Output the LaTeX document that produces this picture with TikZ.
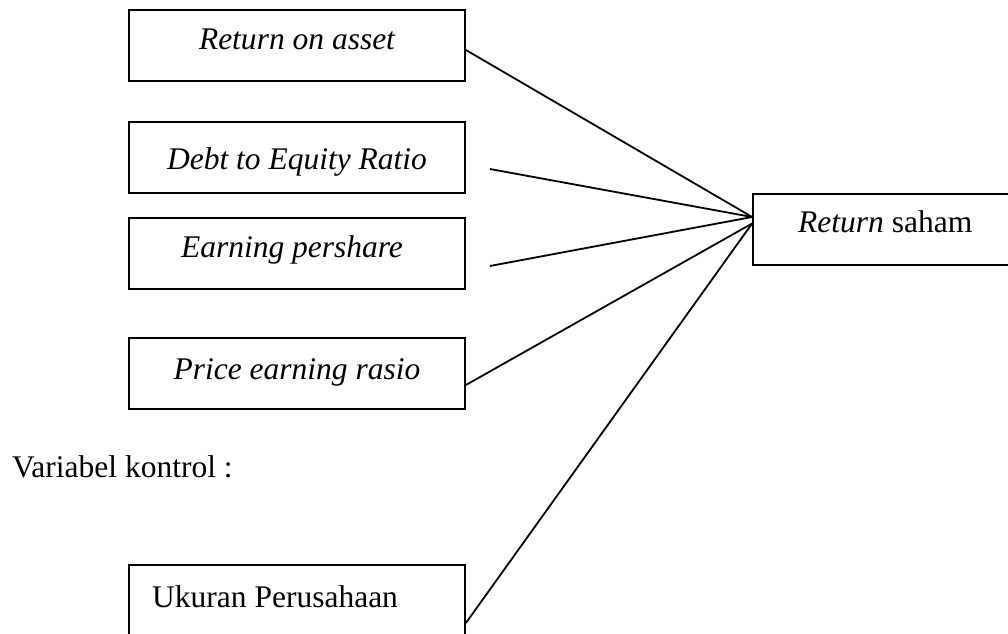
\documentclass[tikz,border=0pt]{standalone}
\usepackage{fontspec}
\setmainfont{Liberation Serif}
\begin{document}
\begin{tikzpicture}[x=1bp,y=-1bp,
  box/.style={draw,line width=1.8bp,inner sep=0pt,minimum width=336bp,minimum height=71bp},
  lbl/.style={inner sep=0pt,anchor=base,font=\fontsize{31.5bp}{38bp}\selectfont},
  conn/.style={line width=1.8bp}]
\useasboundingbox (0,0) rectangle (1008,634);
\clip (0,0) rectangle (1008,634);
% input boxes
\node[box] (b1) at (297,45.5) {};
\node[box] (b2) at (297,157.5) {};
\node[box] (b3) at (297,253.5) {};
\node[box] (b4) at (297,373.5) {};
\node[box,minimum height=80bp] (b5) at (297,605) {};
\node[box,minimum width=307bp] (r) at (906.5,229.5) {};
% texts
\node[lbl] (t1) at (297,50) {\itshape Return on asset};
\node[lbl] (t2) at (297,170) {\itshape Debt to Equity Ratio};
\node[lbl] (t3) at (292,258) {\itshape Earning pershare};
\node[lbl] (t4) at (297,379) {\itshape Price earning rasio};
\node[lbl,anchor=base west] (t5) at (152,607) {Ukuran Perusahaan};
\node[lbl,anchor=base west] (tk) at (12,477) {Variabel kontrol :};
\node[lbl,anchor=base west] (tr) at (798,233) {\itshape Return\upshape{} saham};
% connectors
\draw[conn] ([yshift=-4.5bp]b1.east) -- ([yshift=12.5bp]r.west);
\draw[conn] ([xshift=24bp,yshift=-11.5bp]b2.east) -- ([yshift=12.5bp]r.west);
\draw[conn] ([xshift=24bp,yshift=-12.5bp]b3.east) -- ([yshift=12.5bp]r.west);
\draw[conn] ([yshift=-11.5bp]b4.east) -- ([yshift=6bp]r.west);
\draw[conn] ([yshift=-18bp]b5.east) -- ([yshift=6bp]r.west);
\end{tikzpicture}
\end{document}
